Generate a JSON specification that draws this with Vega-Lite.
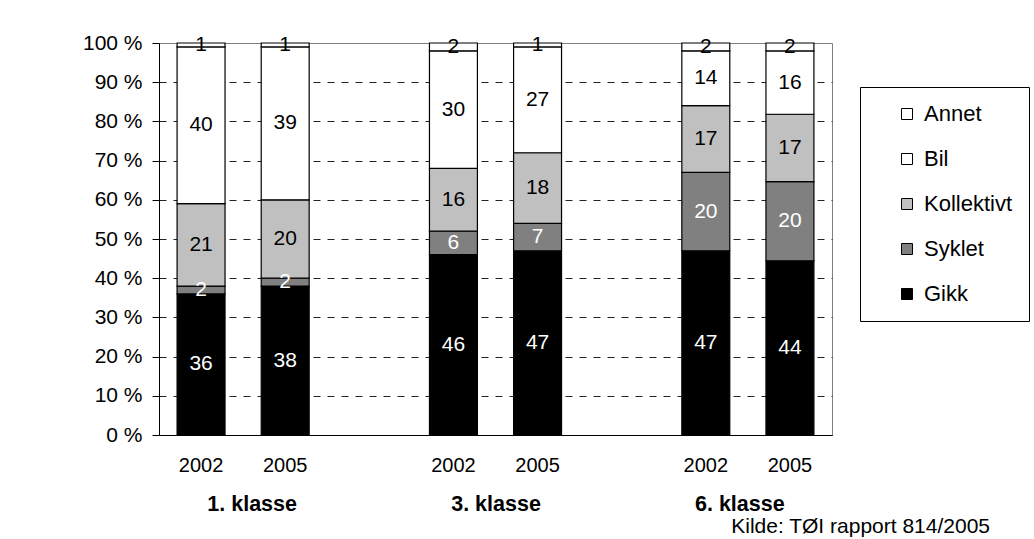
{
  "$schema": "https://vega.github.io/schema/vega-lite/v6.json",
  "width": 673,
  "height": 392,
  "autosize": {"type": "none"},
  "padding": {"left": 159, "top": 43, "right": 202, "bottom": 104},
  "background": "white",
  "config": {
    "font": "Liberation Sans",
    "view": {"stroke": "#808080", "strokeWidth": 1},
    "axis": {"labelColor": "black", "domainColor": "black", "tickColor": "black", "labelFont": "Liberation Sans"},
    "axisY": {
      "title": null,
      "values": [0, 0.1, 0.2, 0.3, 0.4, 0.5, 0.6, 0.7, 0.8, 0.9, 1],
      "labelOverlap": false,
      "labelExpr": "round(datum.value * 100) + ' %'",
      "labelFontSize": 21,
      "labelPadding": 10,
      "tickSize": 7,
      "grid": true,
      "gridColor": "#222222",
      "gridDash": [7, 7]
    },
    "legend": {"labelFont": "Liberation Sans"}
  },
  "title": {
    "text": "Kilde: TØI rapport 814/2005",
    "orient": "bottom",
    "anchor": "end",
    "frame": "group",
    "dx": 158,
    "offset": 1,
    "fontSize": 21,
    "fontWeight": "normal",
    "font": "Liberation Sans",
    "color": "black"
  },
  "layer": [
    {
      "data": {
        "values": [
          {"bar": "1. klasse 2002", "mode": "Gikk", "pct": 36},
          {"bar": "1. klasse 2002", "mode": "Syklet", "pct": 2},
          {"bar": "1. klasse 2002", "mode": "Kollektivt", "pct": 21},
          {"bar": "1. klasse 2002", "mode": "Bil", "pct": 40},
          {"bar": "1. klasse 2002", "mode": "Annet", "pct": 1},
          {"bar": "1. klasse 2005", "mode": "Gikk", "pct": 38},
          {"bar": "1. klasse 2005", "mode": "Syklet", "pct": 2},
          {"bar": "1. klasse 2005", "mode": "Kollektivt", "pct": 20},
          {"bar": "1. klasse 2005", "mode": "Bil", "pct": 39},
          {"bar": "1. klasse 2005", "mode": "Annet", "pct": 1},
          {"bar": "3. klasse 2002", "mode": "Gikk", "pct": 46},
          {"bar": "3. klasse 2002", "mode": "Syklet", "pct": 6},
          {"bar": "3. klasse 2002", "mode": "Kollektivt", "pct": 16},
          {"bar": "3. klasse 2002", "mode": "Bil", "pct": 30},
          {"bar": "3. klasse 2002", "mode": "Annet", "pct": 2},
          {"bar": "3. klasse 2005", "mode": "Gikk", "pct": 47},
          {"bar": "3. klasse 2005", "mode": "Syklet", "pct": 7},
          {"bar": "3. klasse 2005", "mode": "Kollektivt", "pct": 18},
          {"bar": "3. klasse 2005", "mode": "Bil", "pct": 27},
          {"bar": "3. klasse 2005", "mode": "Annet", "pct": 1},
          {"bar": "6. klasse 2002", "mode": "Gikk", "pct": 47},
          {"bar": "6. klasse 2002", "mode": "Syklet", "pct": 20},
          {"bar": "6. klasse 2002", "mode": "Kollektivt", "pct": 17},
          {"bar": "6. klasse 2002", "mode": "Bil", "pct": 14},
          {"bar": "6. klasse 2002", "mode": "Annet", "pct": 2},
          {"bar": "6. klasse 2005", "mode": "Gikk", "pct": 44},
          {"bar": "6. klasse 2005", "mode": "Syklet", "pct": 20},
          {"bar": "6. klasse 2005", "mode": "Kollektivt", "pct": 17},
          {"bar": "6. klasse 2005", "mode": "Bil", "pct": 16},
          {"bar": "6. klasse 2005", "mode": "Annet", "pct": 2}
        ]
      },
      "transform": [
        {"calculate": "indexof(['Gikk', 'Syklet', 'Kollektivt', 'Bil', 'Annet'], datum.mode)", "as": "rank"},
        {"stack": "pct", "groupby": ["bar"], "sort": [{"field": "rank", "order": "ascending"}], "offset": "normalize", "as": ["y0", "y1"]},
        {"calculate": "(datum.y0 + datum.y1) / 2", "as": "ymid"}
      ],
      "layer": [
        {
          "mark": {"type": "bar", "stroke": "black", "strokeWidth": 1.2},
          "encoding": {
            "x": {
              "field": "bar",
              "type": "nominal",
              "scale": {
                "domain": ["1. klasse 2002", "1. klasse 2005", "spacer 1", "3. klasse 2002", "3. klasse 2005", "spacer 2", "6. klasse 2002", "6. klasse 2005"],
                "paddingInner": 0.43,
                "paddingOuter": 0.215
              },
              "axis": {
                "title": null,
                "ticks": false,
                "grid": false,
                "labelAngle": 0,
                "labelPadding": 20,
                "labelFontSize": 20,
                "labelOverlap": false,
                "labelExpr": "test(/[0-9]{4}$/, datum.value) ? slice(datum.value, -4) : ''"
              }
            },
            "y": {
              "field": "y0",
              "type": "quantitative",
              "scale": {"domain": [0, 1], "nice": false},
              "axis": {
                "values": [0, 0.1, 0.2, 0.3, 0.4, 0.5, 0.6, 0.7, 0.8, 0.9, 1],
                "gridOpacity": {"condition": {"test": "datum.value >= 0.999", "value": 0}, "value": 1}
              }
            },
            "y2": {"field": "y1"},
            "color": {
              "field": "mode",
              "type": "nominal",
              "scale": {
                "domain": ["Gikk", "Syklet", "Kollektivt", "Bil", "Annet"],
                "range": ["#000000", "#808080", "#c0c0c0", "#ffffff", "#ffffff"]
              },
              "legend": {
                "orient": "none",
                "legendX": 701,
                "legendY": 44,
                "title": null,
                "values": ["Annet", "Bil", "Kollektivt", "Syklet", "Gikk"],
                "symbolType": "square",
                "symbolSize": 121,
                "symbolStrokeColor": "black",
                "symbolStrokeWidth": 1,
                "symbolOpacity": 1,
                "labelFontSize": 22,
                "labelColor": "black",
                "labelOffset": 6,
                "strokeColor": "black",
                "padding": 16,
                "symbolOffset": 20,
                "rowPadding": 23
              }
            }
          }
        },
        {
          "mark": {"type": "text", "fontSize": 21, "baseline": "middle", "align": "center", "font": "Liberation Sans"},
          "encoding": {
            "x": {"field": "bar", "type": "nominal"},
            "y": {
              "field": "ymid",
              "type": "quantitative",
              "axis": {
                "values": [0, 0.1, 0.2, 0.3, 0.4, 0.5, 0.6, 0.7, 0.8, 0.9, 1],
                "gridOpacity": {"condition": {"test": "datum.value >= 0.999", "value": 0}, "value": 1}
              }
            },
            "text": {"field": "pct", "type": "quantitative"},
            "fill": {
              "condition": {"test": "datum.mode === 'Gikk' || datum.mode === 'Syklet'", "value": "white"},
              "value": "black"
            }
          }
        }
      ]
    },
    {
      "data": {"values": [{"klasse": "1. klasse"}, {"klasse": "3. klasse"}, {"klasse": "6. klasse"}]},
      "mark": {"type": "point", "opacity": 0},
      "encoding": {
        "x": {
          "field": "klasse",
          "type": "nominal",
          "scale": {"type": "point", "padding": 0.38},
          "axis": {
            "orient": "bottom",
            "title": null,
            "domain": false,
            "ticks": false,
            "grid": false,
            "labelAngle": 0,
            "labelPadding": 58,
            "labelFontSize": 21.5,
            "labelFontWeight": "bold"
          }
        }
      }
    }
  ],
  "resolve": {"scale": {"x": "independent"}, "axis": {"x": "independent"}}
}
